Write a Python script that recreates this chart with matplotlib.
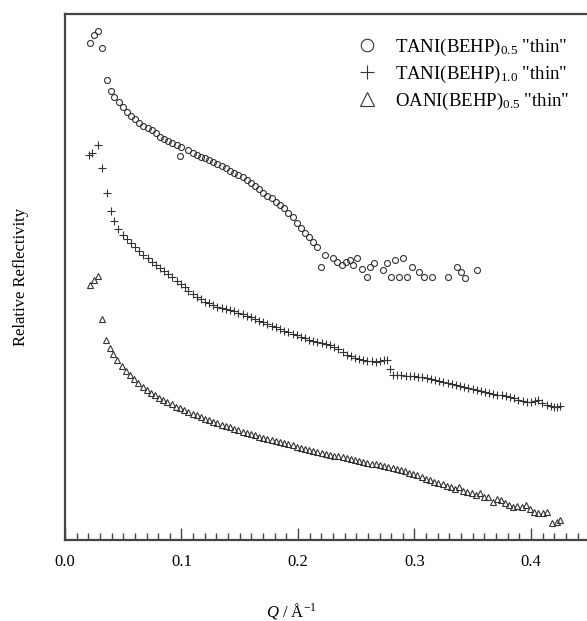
import matplotlib
matplotlib.use("Agg")
import matplotlib.pyplot as plt
from matplotlib.ticker import MultipleLocator, NullLocator

# Q in 1/A, reflectivity in arbitrary (offset) units
q_tani05 = [0.0215, 0.0249, 0.0286, 0.0320, 0.0358, 0.0392, 0.0423, 0.0461, 0.0495, 0.0530,
            0.0564, 0.0601, 0.0638, 0.0672, 0.0710, 0.0744, 0.0781, 0.0815, 0.0850, 0.0887,
            0.0921, 0.0959, 0.0993, 0.0987, 0.1058, 0.1096, 0.1130, 0.1165, 0.1202, 0.1239,
            0.1273, 0.1307, 0.1345, 0.1382, 0.1416, 0.1451, 0.1488, 0.1525, 0.1560, 0.1594,
            0.1631, 0.1668, 0.1702, 0.1736, 0.1774, 0.1811, 0.1845, 0.1880, 0.1917, 0.1954,
            0.1989, 0.2023, 0.2060, 0.2097, 0.2131, 0.2161, 0.2195, 0.2232, 0.2303, 0.2337,
            0.2375, 0.2412, 0.2446, 0.2475, 0.2509, 0.2547, 0.2590, 0.2618, 0.2652, 0.2727,
            0.2761, 0.2796, 0.2833, 0.2870, 0.2904, 0.2933, 0.2976, 0.3041, 0.3082, 0.3148,
            0.3290, 0.3362, 0.3397, 0.3433, 0.3539]
r_tani05 = [9.455, 9.601, 9.677, 9.359, 8.745, 8.536, 8.428, 8.321, 8.226, 8.143,
            8.067, 7.998, 7.934, 7.871, 7.827, 7.795, 7.732, 7.667, 7.624, 7.591,
            7.553, 7.510, 7.477, 7.300, 7.414, 7.363, 7.319, 7.287, 7.257, 7.224,
            7.192, 7.148, 7.110, 7.067, 7.021, 6.971, 6.933, 6.895, 6.844, 6.781,
            6.730, 6.667, 6.603, 6.546, 6.496, 6.432, 6.369, 6.306, 6.222, 6.135,
            6.032, 5.926, 5.842, 5.755, 5.671, 5.576, 5.184, 5.418, 5.356, 5.291,
            5.228, 5.291, 5.323, 5.228, 5.356, 5.146, 5.006, 5.196, 5.260, 5.133,
            5.260, 5.006, 5.323, 5.006, 5.356, 5.006, 5.196, 5.101, 5.006, 5.006,
            5.006, 5.196, 5.101, 4.987, 5.133]

q_tani10 = [0.0209, 0.0234, 0.0286, 0.0320, 0.0358, 0.0392, 0.0423, 0.0459, 0.0495, 0.0530,
            0.0564, 0.0601, 0.0638, 0.0672, 0.0710, 0.0744, 0.0781, 0.0815, 0.0850, 0.0887,
            0.0921, 0.0959, 0.0993, 0.1026, 0.1058, 0.1096, 0.1130, 0.1165, 0.1202, 0.1239,
            0.1273, 0.1307, 0.1345, 0.1382, 0.1416, 0.1451, 0.1488, 0.1525, 0.1560, 0.1594,
            0.1631, 0.1668, 0.1702, 0.1736, 0.1774, 0.1811, 0.1845, 0.1880, 0.1917, 0.1954,
            0.1989, 0.2023, 0.2060, 0.2097, 0.2131, 0.2166, 0.2203, 0.2240, 0.2275, 0.2309,
            0.2346, 0.2384, 0.2418, 0.2452, 0.2489, 0.2526, 0.2561, 0.2595, 0.2632, 0.2670,
            0.2704, 0.2738, 0.2764, 0.2790, 0.2818, 0.2852, 0.2887, 0.2924, 0.2961, 0.2996,
            0.3030, 0.3067, 0.3105, 0.3142, 0.3176, 0.3210, 0.3247, 0.3285, 0.3319, 0.3356,
            0.3391, 0.3425, 0.3462, 0.3500, 0.3534, 0.3568, 0.3605, 0.3642, 0.3676, 0.3711,
            0.3748, 0.3785, 0.3820, 0.3854, 0.3891, 0.3929, 0.3963, 0.3997, 0.4034, 0.4063,
            0.4094, 0.4135, 0.4169, 0.4197, 0.4223, 0.4249]
r_tani10 = [7.319, 7.352, 7.510, 7.067, 6.597, 6.264, 6.070, 5.913, 5.798, 5.717,
            5.637, 5.561, 5.494, 5.418, 5.356, 5.291, 5.228, 5.165, 5.114, 5.057,
            4.994, 4.930, 4.867, 4.804, 4.740, 4.677, 4.626, 4.576, 4.530, 4.500,
            4.468, 4.435, 4.416, 4.392, 4.373, 4.354, 4.321, 4.291, 4.259, 4.234,
            4.202, 4.169, 4.139, 4.106, 4.074, 4.044, 4.011, 3.979, 3.949, 3.916,
            3.897, 3.865, 3.835, 3.802, 3.774, 3.755, 3.740, 3.726, 3.707, 3.669,
            3.622, 3.565, 3.517, 3.489, 3.460, 3.435, 3.413, 3.403, 3.394, 3.390,
            3.394, 3.413, 3.422, 3.245, 3.137, 3.131, 3.131, 3.127, 3.122, 3.114,
            3.105, 3.093, 3.074, 3.061, 3.042, 3.023, 3.010, 2.994, 2.966, 2.947,
            2.928, 2.909, 2.890, 2.871, 2.852, 2.833, 2.808, 2.789, 2.776, 2.762,
            2.751, 2.732, 2.713, 2.694, 2.671, 2.648, 2.629, 2.624, 2.643, 2.662,
            2.614, 2.567, 2.548, 2.529, 2.538, 2.553]

q_oani05 = [0.0215, 0.0249, 0.0286, 0.0320, 0.0352, 0.0386, 0.0415, 0.0449, 0.0487, 0.0524,
            0.0558, 0.0592, 0.0629, 0.0667, 0.0701, 0.0736, 0.0773, 0.0809, 0.0844, 0.0878,
            0.0916, 0.0953, 0.0987, 0.1021, 0.1058, 0.1096, 0.1130, 0.1165, 0.1202, 0.1239,
            0.1273, 0.1307, 0.1345, 0.1382, 0.1416, 0.1451, 0.1488, 0.1525, 0.1560, 0.1594,
            0.1631, 0.1668, 0.1702, 0.1736, 0.1774, 0.1811, 0.1845, 0.1880, 0.1917, 0.1954,
            0.1989, 0.2023, 0.2060, 0.2097, 0.2131, 0.2166, 0.2203, 0.2240, 0.2275, 0.2309,
            0.2346, 0.2384, 0.2418, 0.2452, 0.2489, 0.2526, 0.2561, 0.2595, 0.2632, 0.2670,
            0.2704, 0.2738, 0.2775, 0.2813, 0.2847, 0.2882, 0.2918, 0.2955, 0.2990, 0.3024,
            0.3062, 0.3099, 0.3133, 0.3167, 0.3204, 0.3242, 0.3276, 0.3311, 0.3348, 0.3385,
            0.3419, 0.3453, 0.3491, 0.3528, 0.3562, 0.3597, 0.3634, 0.3671, 0.3706, 0.3740,
            0.3777, 0.3814, 0.3848, 0.3882, 0.3920, 0.3957, 0.3991, 0.4026, 0.4063, 0.4100,
            0.4135, 0.4178, 0.4221, 0.4249]
r_oani05 = [4.848, 4.943, 5.019, 4.196, 3.802, 3.645, 3.530, 3.422, 3.308, 3.219,
            3.137, 3.055, 2.979, 2.914, 2.852, 2.800, 2.751, 2.705, 2.662, 2.618,
            2.580, 2.534, 2.504, 2.471, 2.433, 2.401, 2.371, 2.338, 2.306, 2.281,
            2.249, 2.219, 2.192, 2.167, 2.143, 2.116, 2.091, 2.059, 2.040, 2.015,
            1.990, 1.964, 1.945, 1.920, 1.901, 1.882, 1.857, 1.838, 1.819, 1.800,
            1.774, 1.755, 1.736, 1.717, 1.698, 1.679, 1.660, 1.641, 1.622, 1.606,
            1.591, 1.574, 1.559, 1.544, 1.527, 1.508, 1.487, 1.458, 1.454, 1.439,
            1.422, 1.403, 1.384, 1.363, 1.344, 1.327, 1.306, 1.279, 1.255, 1.230,
            1.202, 1.163, 1.141, 1.112, 1.084, 1.059, 1.027, 1.017, 0.979, 1.008,
            0.937, 0.922, 0.894, 0.865, 0.903, 0.823, 0.808, 0.728, 0.779, 0.760,
            0.703, 0.665, 0.633, 0.646, 0.618, 0.656, 0.580, 0.523, 0.508, 0.508,
            0.538, 0.317, 0.348, 0.380]

labels = ['TANI(BEHP)$_{0.5}$ "thin"', 'TANI(BEHP)$_{1.0}$ "thin"', 'OANI(BEHP)$_{0.5}$ "thin"']

plt.rcParams['font.family'] = 'Liberation Serif'
plt.rcParams['mathtext.fontset'] = 'custom'
plt.rcParams['mathtext.rm'] = 'Liberation Serif'
plt.rcParams['mathtext.it'] = 'Liberation Serif:italic'
plt.rcParams['font.size'] = 12

fig = plt.figure(figsize=(5.87, 6.21), dpi=100)
ax = fig.add_axes([65 / 587, 81 / 621, 1 - 65 / 587, 526 / 621])

col = '#333333'
ax.plot(q_tani05, r_tani05, 'o', ms=4.3, mfc='none', mec=col, mew=0.8, label=labels[0])
ax.plot(q_tani10, r_tani10, '+', ms=6, mec=col, mew=0.8, label=labels[1])
ax.plot(q_oani05, r_oani05, '^', ms=4.3, mfc='none', mec=col, mew=0.8, label=labels[2])

ax.set_xlim(0, 0.4481)
ax.set_ylim(0, 10)
ax.xaxis.set_major_locator(MultipleLocator(0.1))
ax.xaxis.set_minor_locator(MultipleLocator(0.01))
ax.yaxis.set_major_locator(NullLocator())
ax.set_xticks([0, 0.1, 0.2, 0.3, 0.4])
ax.set_xticklabels(['0.0', '0.1', '0.2', '0.3', '0.4'])
ax.tick_params(axis='x', which='major', direction='in', length=9, width=1, color='#444444', pad=10)
ax.tick_params(axis='x', which='minor', direction='in', length=5, width=1, color='#444444')

for s in ['left', 'top', 'bottom']:
    ax.spines[s].set_linewidth(1.6)
    ax.spines[s].set_color('#444444')
ax.spines['right'].set_visible(False)

# x label sits a bit left of the axes centre in the original
fig.text(291 / 587, 1 - 611 / 621, '$\\mathit{Q}$ / Å$^{\\mathregular{-1}}$',
         ha='center', va='center', fontsize=12)
ax.set_ylabel('Relative Reflectivity', labelpad=26)

leg = ax.legend(loc='upper right', bbox_to_anchor=(0.995, 0.985), frameon=False,
                handlelength=1.2, handletextpad=0.9, labelspacing=0.3, borderpad=0.3,
                fontsize=13.5)
for h, s in zip(leg.legend_handles, [9, 10, 9.5]):
    h.set_markersize(s)

fig.savefig('out.png', dpi=100)
